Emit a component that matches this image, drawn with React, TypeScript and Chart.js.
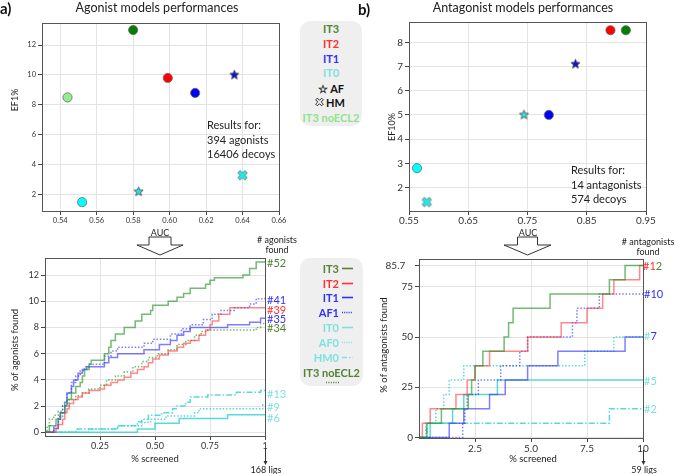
import React, { useEffect, useRef } from 'react';
import { Chart, registerables } from 'chart.js';

Chart.register(...registerables);

type Pt = [number, number];

// ---------------- data ----------------
// (a) top: agonist models, AUC vs EF1%
const agoModels = ['IT3', 'IT2', 'IT1', 'IT0', 'AF1', 'AF0', 'HM0', 'IT3 noECL2'];
const agoAUC = [0.58, 0.599, 0.614, 0.552, 0.6355, 0.583, 0.64, 0.544];
const agoEF1 = [13.0, 9.8, 8.8, 1.5, 10.0, 2.2, 3.3, 8.5];
const agoAUCTicks = [0.54, 0.56, 0.58, 0.6, 0.62, 0.64, 0.66];
const agoEFTicks = [2, 4, 6, 8, 10, 12];

// (b) top: antagonist models, AUC vs EF10%
const antModels = ['IT3', 'IT2', 'IT1', 'IT0', 'AF1', 'AF0', 'HM0'];
const antAUC = [0.916, 0.89, 0.786, 0.5635, 0.831, 0.744, 0.58];
const antEF10 = [8.5, 8.5, 5.0, 2.8, 7.1, 5.0, 1.4];
const antAUCTicks = [0.55, 0.65, 0.75, 0.85, 0.95];
const antEFTicks = [2, 3, 4, 5, 6, 7, 8];

// (a) bottom: % of agonists found vs % screened
const agoScreenTicks = [0.25, 0.5, 0.75, 1];
const agoFoundTicks = [0, 2, 4, 6, 8, 10, 12];
const agoIT3: Pt[] = [[0, 0], [0.02, 0.5], [0.05, 1.0], [0.07, 1.5], [0.09, 2.0], [0.1, 2.5], [0.12, 3.0], [0.14, 3.5], [0.16, 3.8], [0.17, 4.3], [0.18, 4.8], [0.2, 5.2], [0.21, 5.5], [0.27, 6.0], [0.29, 6.5], [0.3, 7.0], [0.32, 7.5], [0.36, 8.0], [0.41, 8.5], [0.44, 9.0], [0.48, 9.3], [0.49, 9.7], [0.56, 10.0], [0.6, 10.3], [0.63, 10.6], [0.66, 11.0], [0.73, 11.3], [0.75, 11.6], [0.77, 11.8], [0.9, 12.0], [0.93, 12.5], [0.96, 13.0], [1.0, 13.0]];
const agoIT2: Pt[] = [[0, 0], [0.05, 0.3], [0.06, 0.6], [0.08, 1.0], [0.09, 1.5], [0.1, 1.8], [0.11, 2.2], [0.13, 2.5], [0.15, 2.7], [0.17, 3.0], [0.2, 3.2], [0.25, 3.3], [0.27, 3.6], [0.3, 3.8], [0.33, 4.0], [0.36, 4.2], [0.39, 4.5], [0.42, 4.8], [0.45, 5.0], [0.47, 5.3], [0.49, 5.6], [0.52, 5.9], [0.56, 6.2], [0.6, 6.5], [0.63, 6.8], [0.66, 7.0], [0.7, 7.4], [0.73, 7.8], [0.75, 8.2], [0.76, 8.5], [0.79, 9.0], [0.84, 9.5], [1.0, 9.5]];
const agoIT1: Pt[] = [[0, 0], [0.04, 0.3], [0.06, 1.0], [0.07, 1.5], [0.09, 2.3], [0.1, 3.0], [0.12, 3.5], [0.13, 4.0], [0.15, 4.5], [0.17, 4.8], [0.19, 5.0], [0.27, 5.3], [0.29, 5.7], [0.33, 6.0], [0.45, 6.3], [0.52, 6.7], [0.57, 7.0], [0.6, 7.4], [0.63, 7.7], [0.66, 8.0], [0.83, 8.2], [0.93, 8.4], [0.98, 8.7], [1.0, 8.7]];
const agoAF1: Pt[] = [[0, 0], [0.04, 0.5], [0.06, 1.2], [0.08, 2.0], [0.1, 3.0], [0.12, 3.8], [0.14, 4.3], [0.16, 4.7], [0.18, 5.0], [0.2, 5.2], [0.27, 5.8], [0.3, 6.2], [0.33, 6.5], [0.45, 6.8], [0.49, 7.1], [0.57, 7.5], [0.62, 7.9], [0.66, 8.2], [0.72, 8.6], [0.76, 9.0], [0.8, 9.3], [0.86, 9.5], [0.93, 9.8], [0.96, 10.2], [1.0, 10.3]];
const agoNoECL2: Pt[] = [[0, 0], [0.01, 0.5], [0.02, 1.0], [0.04, 1.3], [0.06, 1.6], [0.08, 2.0], [0.11, 2.5], [0.14, 2.8], [0.17, 3.0], [0.2, 3.3], [0.25, 3.6], [0.28, 4.0], [0.32, 4.3], [0.36, 4.6], [0.4, 5.0], [0.44, 5.4], [0.47, 5.7], [0.51, 6.0], [0.56, 6.3], [0.6, 6.7], [0.64, 7.0], [0.68, 7.4], [0.71, 7.7], [0.74, 7.8], [0.96, 8.0], [0.98, 8.3], [1.0, 8.3]];
const agoIT0: Pt[] = [[0, 0], [0.42, 0.25], [0.5, 0.7], [0.61, 1.05], [0.83, 1.35], [1.0, 1.35]];
const agoAF0: Pt[] = [[0, 0], [0.2, 0.25], [0.33, 0.5], [0.44, 0.75], [0.48, 1.0], [0.55, 1.25], [0.68, 1.5], [0.7, 1.8], [0.99, 2.1], [1.0, 2.1]];
const agoHM0: Pt[] = [[0, 0], [0.14, 0.25], [0.33, 0.5], [0.42, 0.8], [0.44, 1.0], [0.47, 1.3], [0.53, 1.5], [0.58, 1.8], [0.6, 2.0], [0.64, 2.3], [0.66, 2.7], [0.74, 2.85], [0.87, 3.05], [0.98, 3.2], [1.0, 3.2]];

// (b) bottom: % of antagonists found vs % screened
const antScreenTicks = [2.5, 5, 7.5, 10];
const antFoundTicks = [0, 25, 50, 75, 85.7];
const antIT3: Pt[] = [[0, 0], [0.35, 7.1], [1.0, 14.3], [2.2, 21.4], [2.35, 28.6], [2.5, 35.7], [2.85, 42.9], [3.8, 50], [4.0, 57.1], [4.2, 64.3], [5.85, 71.4], [8.5, 78.6], [9.2, 85.7], [10, 85.7]];
const antIT2: Pt[] = [[0, 0], [0.15, 7.1], [0.5, 14.3], [1.65, 21.4], [2.15, 28.6], [2.5, 35.7], [3.15, 42.9], [4.85, 50], [6.35, 57.1], [7.5, 64.3], [8.2, 71.4], [8.7, 78.6], [9.85, 85.7], [10, 85.7]];
const antIT1: Pt[] = [[0, 0], [1.35, 7.1], [2.0, 14.3], [3.15, 21.4], [3.85, 28.6], [4.85, 35.7], [6.2, 42.9], [9.2, 50], [10, 50]];
const antAF1: Pt[] = [[0, 0], [1.95, 7.1], [2.05, 14.3], [2.15, 21.4], [2.65, 28.6], [3.65, 35.7], [4.5, 42.9], [4.85, 50], [6.85, 57.1], [7.05, 64.3], [8.05, 71.4], [10, 71.4]];
const antIT0: Pt[] = [[0, 0], [0.5, 7.1], [1.5, 14.3], [2.0, 21.4], [3.5, 28.6], [10, 28.6]];
const antAF0: Pt[] = [[0, 0], [0.3, 7.1], [0.75, 14.3], [1.1, 21.4], [1.35, 28.6], [2.0, 35.7], [7.4, 42.9], [8.7, 50], [10, 50]];
const antHM0: Pt[] = [[0, 0], [0.35, 7.1], [8.5, 14.3], [10, 14.3]];

// ---------------- styles ----------------
const FONT = 'Lato, "Open Sans", sans-serif';
const TXT = { IT3: '#548235', IT2: '#ff3030', IT1: '#2f2fff', IT0: '#80e0e0', NOECL2: '#8fe38f' };
const LINE = {
  green: 'rgba(40,150,40,0.65)',
  red: 'rgba(255,40,40,0.55)',
  blue: 'rgba(40,40,255,0.6)',
  cyan: 'rgba(60,210,210,0.85)',
};

function makeStar(fill: string, r: number): HTMLCanvasElement {
  const s = Math.ceil(r * 2 + 3);
  const c = document.createElement('canvas');
  c.width = s; c.height = s;
  const g = c.getContext('2d')!;
  g.beginPath();
  for (let i = 0; i < 10; i++) {
    const a = -Math.PI / 2 + (i * Math.PI) / 5;
    const rr = i % 2 ? r * 0.45 : r;
    g.lineTo(s / 2 + rr * Math.cos(a), s / 2 + rr * Math.sin(a));
  }
  g.closePath();
  g.fillStyle = fill; g.fill();
  g.strokeStyle = '#444'; g.lineWidth = 0.8; g.stroke();
  return c;
}

function makeX(fill: string, r: number, w: number): HTMLCanvasElement {
  const s = Math.ceil(r * 2 + 3);
  const c = document.createElement('canvas');
  c.width = s; c.height = s;
  const g = c.getContext('2d')!;
  const pts: Pt[] = [[-w, -r], [w, -r], [w, -w], [r, -w], [r, w], [w, w], [w, r], [-w, r], [-w, w], [-r, w], [-r, -w], [-w, -w]];
  const ca = Math.cos(Math.PI / 4), sa = Math.sin(Math.PI / 4);
  g.beginPath();
  pts.forEach(([x, y]) => g.lineTo(s / 2 + x * ca - y * sa, s / 2 + x * sa + y * ca));
  g.closePath();
  g.fillStyle = fill; g.fill();
  g.strokeStyle = '#666'; g.lineWidth = 0.8; g.stroke();
  return c;
}

const framePlugin = {
  id: 'frame',
  afterDraw(chart: any) {
    const { ctx, chartArea: a } = chart;
    ctx.save();
    ctx.strokeStyle = '#555';
    ctx.lineWidth = 1;
    ctx.strokeRect(Math.round(a.left) + 0.5, Math.round(a.top) + 0.5, Math.round(a.right - a.left), Math.round(a.bottom - a.top));
    ctx.restore();
  },
};

function linAxis(o: { min: number; max: number; ticks: number[]; fmt: (v: number) => string; size: number; fit: number; horizontal: boolean; tickLen: number; pad: number }) {
  return {
    type: 'linear',
    min: o.min,
    max: o.max,
    afterBuildTicks: (s: any) => { s.ticks = o.ticks.map((v) => ({ value: v })); },
    afterFit: (s: any) => { if (o.horizontal) s.height = o.fit; else s.width = o.fit; },
    ticks: {
      autoSkip: false, maxRotation: 0, minRotation: 0, padding: o.pad, color: '#333',
      font: { family: FONT, size: o.size },
      callback: (v: any) => o.fmt(Number(v)),
    },
    grid: { color: '#e3e3e3', lineWidth: 1, tickLength: o.tickLen, tickColor: '#444', drawTicks: true },
    border: { display: false },
  };
}

function markerFor(m: string, imgs: any) {
  switch (m) {
    case 'IT3': return { style: 'circle', color: '#008000' };
    case 'IT2': return { style: 'circle', color: '#ff0000' };
    case 'IT1': return { style: 'circle', color: '#0000ff' };
    case 'IT0': return { style: 'circle', color: '#00ffff' };
    case 'IT3 noECL2': return { style: 'circle', color: '#90ee90' };
    case 'AF1': return { style: imgs.starBlue, color: '#0000ff' };
    case 'AF0': return { style: imgs.starCyan, color: '#00ffff' };
    default: return { style: imgs.xCyan, color: '#00ffff' };
  }
}

function scatterConfig(models: string[], xs: number[], ys: number[], x: any, y: any, padding: any) {
  const imgs = { starBlue: makeStar('#1010e0', 4.8), starCyan: makeStar('#30e0e0', 4.8), xCyan: makeX('#20ecec', 5, 1.7) };
  const datasets = models.map((m, i) => {
    const mk = markerFor(m, imgs);
    return {
      label: m,
      data: [{ x: xs[i], y: ys[i] }],
      pointStyle: mk.style,
      pointRadius: 4.6,
      backgroundColor: mk.color,
      borderColor: '#6a6a6a',
      borderWidth: 0.8,
      clip: false,
    };
  });
  return {
    type: 'scatter',
    data: { datasets },
    options: {
      animation: false, responsive: false, events: [],
      layout: { padding },
      plugins: { legend: { display: false }, tooltip: { enabled: false } },
      scales: { x, y },
    },
    plugins: [framePlugin],
  };
}

function stepDs(pts: Pt[], color: string, dash: number[] = []) {
  return {
    data: pts.map(([x, y]) => ({ x, y })),
    borderColor: color,
    borderWidth: 1.5,
    borderDash: dash,
    stepped: 'before',
    pointRadius: 0,
    fill: false,
    clip: 2,
  };
}

function stepConfig(datasets: any[], x: any, y: any, padding: any) {
  return {
    type: 'line',
    data: { datasets },
    options: {
      animation: false, responsive: false, events: [],
      layout: { padding },
      plugins: { legend: { display: false }, tooltip: { enabled: false } },
      scales: { x, y },
    },
    plugins: [framePlugin],
  };
}

const DOT = [1.5, 1.8];
const DASHDOT = [6, 2, 1.5, 2];

function ChartBox({ x, y, w, h, make }: { x: number; y: number; w: number; h: number; make: () => any }) {
  const ref = useRef<HTMLCanvasElement>(null);
  useEffect(() => {
    const chart = new Chart(ref.current as HTMLCanvasElement, make());
    return () => chart.destroy();
  }, []);
  return <canvas ref={ref} width={w} height={h} style={{ position: 'absolute', left: x, top: y, width: w, height: h }} />;
}

function T({ x, y, s = 9, c = '#222', w = 400, a = 'c', rot = false, children, style }: any) {
  const tr = a === 'c' ? 'translate(-50%,-50%)' : a === 'l' ? 'translate(0,-50%)' : 'translate(-100%,-50%)';
  return (
    <div style={{ position: 'absolute', left: x, top: y, transform: tr + (rot ? ' rotate(-90deg)' : ''), fontFamily: FONT, fontSize: s, color: c, fontWeight: w, whiteSpace: 'nowrap', lineHeight: 1, ...style }}>
      {children}
    </div>
  );
}

const fmt2 = (v: number) => v.toFixed(2);
const fmtInt = (v: number) => String(Math.round(v));

export default function App() {
  const makeA = () => scatterConfig(agoModels, agoAUC, agoEF1,
    linAxis({ min: 0.53, max: 0.66, ticks: agoAUCTicks, fmt: fmt2, size: 7.5, fit: 19, horizontal: true, tickLen: 4, pad: 1 }),
    linAxis({ min: 0.91, max: 13.47, ticks: agoEFTicks, fmt: fmtInt, size: 7.5, fit: 42, horizontal: false, tickLen: 4, pad: 2 }),
    { top: 23, right: 11, left: 0, bottom: 0 });
  const makeB = () => scatterConfig(antModels, antAUC, antEF10,
    linAxis({ min: 0.55, max: 0.95, ticks: antAUCTicks, fmt: fmt2, size: 10, fit: 19, horizontal: true, tickLen: 4, pad: 0 }),
    linAxis({ min: 1.03, max: 8.84, ticks: antEFTicks, fmt: fmtInt, size: 10, fit: 29, horizontal: false, tickLen: 4, pad: 2 }),
    { top: 22, right: 30, left: 0, bottom: 0 });
  const makeC = () => stepConfig([
    stepDs(agoIT3, LINE.green),
    stepDs(agoIT2, LINE.red),
    stepDs(agoIT1, LINE.blue),
    stepDs(agoAF1, LINE.blue, DOT),
    stepDs(agoNoECL2, LINE.green, DOT),
    stepDs(agoIT0, LINE.cyan),
    stepDs(agoAF0, LINE.cyan, DOT),
    stepDs(agoHM0, LINE.cyan, DASHDOT),
  ],
    linAxis({ min: 0, max: 1, ticks: agoScreenTicks, fmt: (v) => (v === 1 ? '1' : v.toFixed(2)), size: 9, fit: 38, horizontal: true, tickLen: 4, pad: 1 }),
    linAxis({ min: -0.28, max: 13.3, ticks: agoFoundTicks, fmt: fmtInt, size: 9, fit: 45, horizontal: false, tickLen: 4, pad: 2 }),
    { top: 18, right: 17, left: 0, bottom: 0 });
  const makeD = () => stepConfig([
    stepDs(antIT3, LINE.green),
    stepDs(antIT2, LINE.red),
    stepDs(antAF1, LINE.blue, DOT),
    stepDs(antIT1, LINE.blue),
    stepDs(antIT0, LINE.cyan),
    stepDs(antAF0, LINE.cyan, DOT),
    stepDs(antHM0, LINE.cyan, DASHDOT),
  ],
    linAxis({ min: 0, max: 10, ticks: antScreenTicks, fmt: (v) => (v === 10 ? '10' : v.toFixed(1)), size: 10, fit: 36, horizontal: true, tickLen: 4, pad: 1 }),
    linAxis({ min: -0.3, max: 88.9, ticks: antFoundTicks, fmt: (v) => (v === 85.7 ? '85.7   ' : fmtInt(v)), size: 10, fit: 39, horizontal: false, tickLen: 4, pad: 2 }),
    { top: 19, right: 17, left: 0, bottom: 0 });

  return (
    <div style={{ position: 'absolute', left: 0, top: 0, width: 676, height: 474, background: '#fff', overflow: 'hidden' }}>
      <ChartBox x={0} y={0} w={290} h={230} make={makeA} />
      <ChartBox x={380} y={0} w={296} h={230} make={makeB} />
      <ChartBox x={0} y={240} w={282} h={234} make={makeC} />
      <ChartBox x={380} y={240} w={280} h={234} make={makeD} />

      {/* panel labels and titles */}
      <T x={0} y={8} s={15} w={700} a="l" c="#111">a)</T>
      <T x={358} y={9} s={15} w={700} a="l" c="#111">b)</T>
      <T x={157} y={8} s={12.5} c="#222">Agonist models performances</T>
      <T x={523} y={8} s={12.5} c="#222">Antagonist models performances</T>

      {/* axis titles */}
      <T x={14} y={100} s={9} rot>EF1%</T>
      <T x={391} y={127} s={9} rot>EF10%</T>
      <T x={160} y={232} s={9}>AUC</T>
      <T x={528} y={232} s={9}>AUC</T>
      <T x={15} y={350} s={9.5} rot>% of agonists found</T>
      <T x={384} y={345} s={9.5} rot>% of antagonists found</T>
      <T x={155} y={459} s={9.5}>% screened</T>
      <T x={533} y={459} s={9.5}>% screened</T>

      {/* results text */}
      <div style={{ position: 'absolute', left: 207, top: 118, fontFamily: FONT, fontSize: 11, lineHeight: '14.5px', color: '#222' }}>
        Results for:<br />394 agonists<br />16406 decoys
      </div>
      <div style={{ position: 'absolute', left: 571, top: 163, fontFamily: FONT, fontSize: 11, lineHeight: '14.5px', color: '#222' }}>
        Results for:<br />14 antagonists<br />574 decoys
      </div>

      {/* header for # found */}
      <div style={{ position: 'absolute', left: 277, top: 235, transform: 'translateX(-50%)', fontFamily: FONT, fontSize: 9, lineHeight: '9.5px', textAlign: 'center', color: '#222', whiteSpace: 'nowrap' }}>
        # agonists<br />found
      </div>
      <div style={{ position: 'absolute', left: 648, top: 237, transform: 'translateX(-50%)', fontFamily: FONT, fontSize: 9, lineHeight: '9.5px', textAlign: 'center', color: '#222', whiteSpace: 'nowrap' }}>
        # antagonists<br />found
      </div>

      {/* end labels agonist */}
      <T x={267} y={262} s={11} a="l" c={TXT.IT3}>#52</T>
      <T x={267} y={299} s={11} a="l" c={TXT.IT1}>#41</T>
      <T x={267} y={309} s={11} a="l" c={TXT.IT2}>#39</T>
      <T x={267} y={318} s={11} a="l" c={TXT.IT1}>#35</T>
      <T x={267} y={327} s={11} a="l" c={TXT.IT3}>#34</T>
      <T x={267} y={393} s={11} a="l" c={TXT.IT0}>#13</T>
      <T x={267} y={406} s={11} a="l" c={TXT.IT0}>#9</T>
      <T x={267} y={417} s={11} a="l" c={TXT.IT0}>#6</T>

      {/* end labels antagonist */}
      <T x={643} y={265} s={11} a="l"><span style={{ color: TXT.IT2 }}>#1</span><span style={{ color: TXT.IT3 }}>2</span></T>
      <T x={644} y={293} s={11} a="l" c={TXT.IT1}>#10</T>
      <T x={644} y={335} s={11} a="l"><span style={{ color: TXT.IT0 }}>#</span><span style={{ color: TXT.IT1 }}>7</span></T>
      <T x={644} y={380} s={11} a="l" c={TXT.IT0}>#5</T>
      <T x={644} y={408} s={11} a="l" c={TXT.IT0}>#2</T>

      <T x={266} y={469} s={9}>168 ligs</T>
      <T x={644} y={469} s={9}>59 ligs</T>

      {/* top legend */}
      <div style={{ position: 'absolute', left: 300, top: 21, width: 62, height: 105, background: '#efefef', borderRadius: 10 }} />
      <T x={331} y={28} s={11} w={700} c={TXT.IT3}>IT3</T>
      <T x={331} y={43} s={11} w={700} c={TXT.IT2}>IT2</T>
      <T x={331} y={58} s={11} w={700} c={TXT.IT1}>IT1</T>
      <T x={331} y={72} s={11} w={700} c={TXT.IT0}>IT0</T>
      <T x={331} y={88} s={11} w={700} c="#111">☆ AF</T>
      <T x={326} y={102} s={11} w={700} a="l" c="#111">HM</T>
      <T x={331} y={117} s={11} w={700} c={TXT.NOECL2}>IT3 noECL2</T>

      {/* bottom legend */}
      <div style={{ position: 'absolute', left: 300, top: 258, width: 63, height: 128, background: '#efefef', borderRadius: 10 }} />

      <svg width={676} height={474} style={{ position: 'absolute', left: 0, top: 0, pointerEvents: 'none', overflow: 'visible' }}>
        {/* HM outlined X symbol in top legend */}
        <g transform="translate(319.5,102) rotate(45)">
          <path d="M-1.2,-4.2 L1.2,-4.2 L1.2,-1.2 L4.2,-1.2 L4.2,1.2 L1.2,1.2 L1.2,4.2 L-1.2,4.2 L-1.2,1.2 L-4.2,1.2 L-4.2,-1.2 L-1.2,-1.2 Z" fill="none" stroke="#222" strokeWidth={0.9} />
        </g>
        {/* hollow AUC arrows */}
        <path d="M149,237 L171,237 L171,245 L183,245 L160,255 L137,245 L149,245 Z" fill="#fff" stroke="#333" strokeWidth={1} />
        <path d="M517.5,237 L537.5,237 L537.5,245 L551,245 L527.5,255 L504,245 L517.5,245 Z" fill="#fff" stroke="#333" strokeWidth={1} />
        {/* lig arrows */}
        <line x1={265.5} y1={449} x2={265.5} y2={462} stroke="#333" strokeWidth={1} />
        <path d="M263.5,461 L267.5,461 L265.5,465 Z" fill="#333" />
        <line x1={643.5} y1={450} x2={643.5} y2={462} stroke="#333" strokeWidth={1} />
        <path d="M641.5,461 L645.5,461 L643.5,465 Z" fill="#333" />
        {/* bottom legend line samples */}
        <line x1={342} y1={268.5} x2={353} y2={268.5} stroke={TXT.IT3} strokeWidth={1.6} />
        <line x1={342} y1={283.5} x2={353} y2={283.5} stroke={TXT.IT2} strokeWidth={1.6} />
        <line x1={342} y1={297.5} x2={353} y2={297.5} stroke={TXT.IT1} strokeWidth={1.6} />
        <line x1={342} y1={312.5} x2={353} y2={312.5} stroke={TXT.IT1} strokeWidth={1.4} strokeDasharray="1,1.2" />
        <line x1={342} y1={327.5} x2={353} y2={327.5} stroke={TXT.IT0} strokeWidth={1.6} />
        <line x1={342} y1={342.5} x2={353} y2={342.5} stroke={TXT.IT0} strokeWidth={1.4} strokeDasharray="1,1.2" />
        <line x1={342} y1={357.5} x2={353} y2={357.5} stroke={TXT.IT0} strokeWidth={1.6} strokeDasharray="5,2,1.5,2" />
        <line x1={326} y1={382.5} x2={340} y2={382.5} stroke={TXT.IT3} strokeWidth={1.4} strokeDasharray="1,1.4" />
      </svg>

      <T x={339} y={268} s={11} w={700} c={TXT.IT3} a="r">IT3</T>
      <T x={339} y={283} s={11} w={700} c={TXT.IT2} a="r">IT2</T>
      <T x={339} y={297} s={11} w={700} c={TXT.IT1} a="r">IT1</T>
      <T x={339} y={312} s={11} w={700} c={TXT.IT1} a="r">AF1</T>
      <T x={339} y={327} s={11} w={700} c={TXT.IT0} a="r">IT0</T>
      <T x={339} y={342} s={11} w={700} c={TXT.IT0} a="r">AF0</T>
      <T x={339} y={357} s={11} w={700} c={TXT.IT0} a="r">HM0</T>
      <T x={331.5} y={372} s={11} w={700} c={TXT.IT3}>IT3 noECL2</T>
    </div>
  );
}
